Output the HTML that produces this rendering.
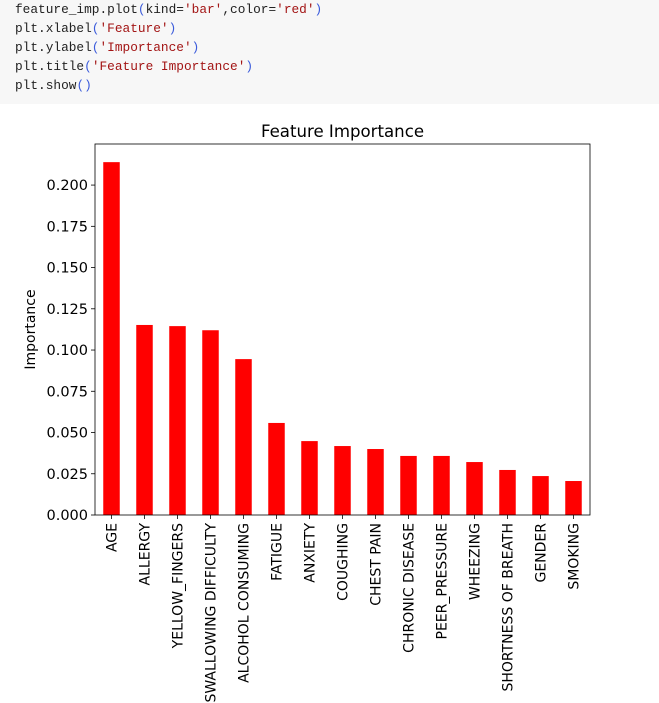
<!DOCTYPE html>
<html><head><meta charset="utf-8"><style>
body{margin:0;width:659px;height:703px;background:#fff;overflow:hidden;font-family:"DejaVu Sans",sans-serif}
.code{position:absolute;left:0;top:0;width:659px;height:104px;background:#f7f7f7;font-family:"Liberation Mono",monospace;font-size:12.8px;line-height:19px;padding-top:0;box-sizing:border-box}
.code div{padding-left:15px;white-space:pre;color:#222}
.s{color:#a31515}.p{color:#3b5bdb}
svg{position:absolute;left:0;top:0}
</style></head><body>
<div class="code">
<div>feature_imp.plot<span class="p">(</span>kind=<span class="s">'bar'</span>,color=<span class="s">'red'</span><span class="p">)</span></div>
<div>plt.xlabel<span class="p">(</span><span class="s">'Feature'</span><span class="p">)</span></div>
<div>plt.ylabel<span class="p">(</span><span class="s">'Importance'</span><span class="p">)</span></div>
<div>plt.title<span class="p">(</span><span class="s">'Feature Importance'</span><span class="p">)</span></div>
<div>plt.show<span class="p">()</span></div>
</div>
<svg id="chart" width="659" height="703"></svg>
<script>
const categories=["AGE","ALLERGY","YELLOW_FINGERS","SWALLOWING DIFFICULTY","ALCOHOL CONSUMING","FATIGUE","ANXIETY","COUGHING","CHEST PAIN","CHRONIC DISEASE","PEER_PRESSURE","WHEEZING","SHORTNESS OF BREATH","GENDER","SMOKING"];
const importance=[0.2139,0.1152,0.1145,0.112,0.0945,0.0558,0.0448,0.0418,0.04,0.0358,0.0358,0.0321,0.0273,0.0236,0.0206];
const yTicks=[0,0.025,0.05,0.075,0.1,0.125,0.15,0.175,0.2];
const yTickLabels=["0.000","0.025","0.050","0.075","0.100","0.125","0.150","0.175","0.200"];
const NS="http://www.w3.org/2000/svg";
const svg=document.getElementById('chart');
const L=95,R=590,T=144,B=515,yMax=0.2249;
const y=v=>B-(v/yMax)*(B-T);
const bw=(R-L)/categories.length;
const x=i=>L+bw*(i+0.5);
function mk(tag,attrs,parent){const e=document.createElementNS(NS,tag);for(const k in attrs)e.setAttribute(k,attrs[k]);(parent||svg).appendChild(e);return e;}
categories.forEach((c,i)=>{
  const r=mk('rect',{x:x(i)-bw*0.25,y:y(importance[i]),width:bw*0.5,height:B-y(importance[i]),fill:'#ff0000'});
  
  
  mk('line',{x1:x(i),x2:x(i),y1:B,y2:B+4,stroke:'#000','stroke-width':0.8});
  const t=mk('text',{x:0,y:0,transform:`translate(${x(i)+5},${B+8}) rotate(-90)`,'text-anchor':'end','font-size':14,fill:'#000'});
  t.textContent=c;
  
  
});
yTicks.forEach((v,i)=>{
  mk('line',{x1:L-4,x2:L,y1:y(v),y2:y(v),stroke:'#000','stroke-width':0.8});
  const t=mk('text',{x:L-7,y:y(v)+5,'text-anchor':'end','font-size':14.5,fill:'#000'});
  t.textContent=yTickLabels[i];
  
  
});
const fr=mk('rect',{x:L,y:T,width:R-L,height:B-T,fill:'none',stroke:'#000','stroke-width':0.8});


const ti=mk('text',{x:(L+R)/2,y:T-7,'text-anchor':'middle','font-size':16.6,fill:'#000'});
ti.textContent='Feature Importance';


const yl=mk('text',{x:0,y:0,transform:`translate(35,${(T+B)/2}) rotate(-90)`,'text-anchor':'middle','font-size':14,fill:'#000'});
yl.textContent='Importance';


</script>
</body></html>
